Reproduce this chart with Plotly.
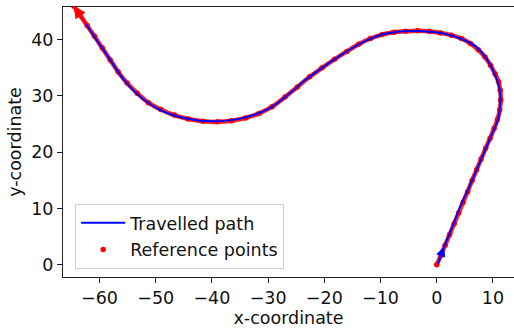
import plotly.graph_objects as go

# Travelled path
path_x = [0.2, 1.3, 2.4, 4.2, 5.4, 6.6, 8.4, 9.9, 10.9, 11.3, 11.2, 10.4, 9.0, 6.9, 4.2, 1.25,
          -2.3, -5.9, -9.4, -13.0, -16.5, -20.1, -23.7, -26.0, -29.6, -34.4, -39.7, -45.1,
          -49.2, -52.8, -55.7, -58.1, -60.5, -62.9, -64.3]
path_y = [0.2, 3.2, 5.8, 10.4, 13.0, 15.7, 19.9, 23.4, 25.8, 28.7, 31.1, 33.7, 36.4, 38.8, 40.2, 41.1,
          41.5, 41.5, 41.0, 39.6, 37.6, 35.2, 32.6, 30.6, 27.9, 26.1, 25.5, 26.1,
          27.5, 29.9, 32.9, 36.4, 39.9, 43.5, 45.6]

# Reference points
ref_x = [0.0, 0.7, 1.5, 2.3, 3.1, 3.9, 4.7, 5.5, 6.3, 7.1, 7.9, 8.7, 9.5, 10.2, 10.8, 11.2, 11.4,
         11.3, 11.0, 10.4, 9.6, 8.6, 7.4, 6.0, 4.4, 2.6, 0.7, -1.3, -3.4, -5.5, -7.6, -9.7,
         -11.8, -13.9, -16.0, -18.2, -20.4, -22.6, -24.8, -27.0, -29.3, -31.6, -34.0, -36.5,
         -39.0, -41.6, -44.2, -46.7, -49.1, -51.3, -53.3, -55.1, -56.7, -58.1, -59.5, -60.9,
         -62.2, -63.5, -64.6]
ref_y = [0.0, 1.6, 3.5, 5.4, 7.3, 9.2, 11.1, 13.0, 15.0, 16.9, 18.8, 20.7, 22.5, 24.2, 25.8, 27.5, 29.3,
         31.0, 32.5, 33.9, 35.4, 36.9, 38.2, 39.3, 40.2, 40.8, 41.2, 41.5, 41.6, 41.5, 41.3, 40.9,
         40.2, 39.2, 37.9, 36.5, 35.0, 33.4, 31.6, 29.8, 28.1, 26.9, 26.1, 25.6,
         25.4, 25.5, 25.9, 26.6, 27.6, 28.8, 30.5, 32.3, 34.3, 36.4, 38.5, 40.6,
         42.5, 44.4, 46.0]

x_ticks = [-60, -50, -40, -30, -20, -10, 0, 10]
y_ticks = [0, 10, 20, 30, 40]

FONT = "DejaVu Sans"
FS = 17.5

fig = go.Figure()

# red band of reference points
fig.add_trace(go.Scatter(x=ref_x, y=ref_y, mode="lines", line=dict(color="red", width=4.5, shape="spline"),
                         opacity=0.85, showlegend=False, hoverinfo="skip"))
fig.add_trace(go.Scatter(x=ref_x, y=ref_y, mode="markers", name="Reference points",
                         marker=dict(color="red", size=5.5), legendgroup="b", legendrank=2))
fig.add_trace(go.Scatter(x=path_x, y=path_y, mode="lines", name="Travelled path",
                         line=dict(color="blue", width=2, shape="spline"), legendgroup="a", legendrank=1))

# direction arrows
fig.add_annotation(x=path_x[1], y=path_y[1], ax=path_x[0], ay=path_y[0], xref="x", yref="y",
                   axref="x", ayref="y", showarrow=True, arrowhead=2, arrowsize=1.2,
                   arrowwidth=1.6, arrowcolor="blue", text="")
fig.add_annotation(x=ref_x[-1], y=ref_y[-1], ax=ref_x[-3], ay=ref_y[-3], xref="x", yref="y",
                   axref="x", ayref="y", showarrow=True, arrowhead=2, arrowsize=1.1,
                   arrowwidth=2.2, arrowcolor="red", text="")

axis_common = dict(showline=True, mirror=True, linecolor="#222", linewidth=1, ticks="outside",
                   ticklen=5, tickcolor="#222", tickwidth=1, showgrid=False, zeroline=False,
                   tickfont=dict(family=FONT, size=FS, color="#111"))

fig.update_layout(
    width=514, height=328,
    margin=dict(l=63, r=0, t=7, b=51),
    plot_bgcolor="white", paper_bgcolor="white",
    font=dict(family=FONT, color="#111"),
    xaxis=dict(range=[-66.5, 13.75], tickvals=x_ticks,
               title=dict(text="x-coordinate", font=dict(family=FONT, size=FS), standoff=3),
               **axis_common),
    yaxis=dict(range=[-2.16, 45.8], tickvals=y_ticks,
               title=dict(text="y-coordinate", font=dict(family=FONT, size=FS), standoff=5),
               **axis_common),
    legend=dict(x=0.027, y=0.03, xanchor="left", yanchor="bottom",
                bgcolor="rgba(255,255,255,0.85)", bordercolor="#d0d0d0", borderwidth=1,
                font=dict(family=FONT, size=FS, color="#111"), tracegroupgap=1,
                itemwidth=44, traceorder="grouped"),
    showlegend=True,
)

fig.write_html("out.html")
